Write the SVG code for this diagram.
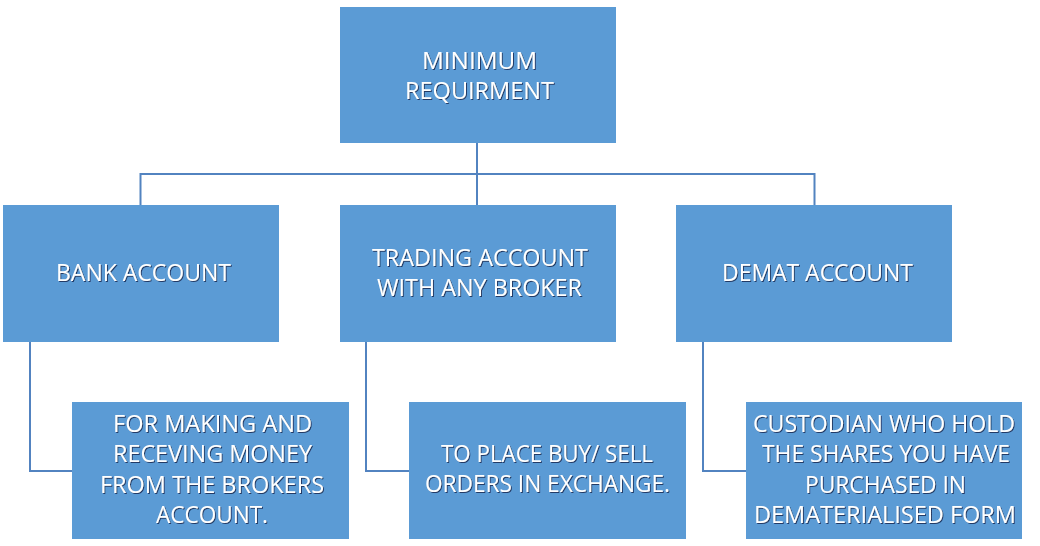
<svg xmlns="http://www.w3.org/2000/svg" width="1040" height="546" viewBox="0 0 1040 546">
  <defs>
    <filter id="sh" x="-5%" y="-20%" width="110%" height="140%">
      <feDropShadow dx="1" dy="1" stdDeviation="0.3" flood-color="#0b1f3f" flood-opacity="0.75"/>
    </filter>
  </defs>
  <style>
    .box { fill: #5B9BD5; }
    .lbl { font-family: "Open Sans", "Liberation Sans", sans-serif; font-size: 24px; fill: #ffffff; text-anchor: middle; filter: url(#sh); }
    .conn { fill: none; stroke: #5283C0; stroke-width: 2; }
  </style>
  <rect width="1040" height="546" fill="#ffffff"/>

  <g id="connectors">
    <path class="conn" d="M477,143 V205"/>
    <path class="conn" d="M140.5,205 V174 H814.5 V205"/>
    <path class="conn" d="M30,341 V471 H72"/>
    <path class="conn" d="M366,341 V471 H409"/>
    <path class="conn" d="M703,341 V471 H746"/>
  </g>

  <g id="node-min">
    <rect class="box" x="340" y="7" width="276" height="136"/>
    <text class="lbl" x="479.5" y="69" textLength="115" lengthAdjust="spacingAndGlyphs">MINIMUM</text>
    <text class="lbl" x="479.5" y="99" textLength="149" lengthAdjust="spacingAndGlyphs">REQUIRMENT</text>
  </g>

  <g id="node-bank">
    <rect class="box" x="3" y="205" width="276" height="137"/>
    <text class="lbl" x="143.5" y="281" textLength="175" lengthAdjust="spacingAndGlyphs">BANK ACCOUNT</text>
  </g>

  <g id="node-trading">
    <rect class="box" x="340" y="205" width="276" height="137"/>
    <text class="lbl" x="480" y="266" textLength="216" lengthAdjust="spacingAndGlyphs">TRADING ACCOUNT</text>
    <text class="lbl" x="479.5" y="296" textLength="205" lengthAdjust="spacingAndGlyphs">WITH ANY BROKER</text>
  </g>

  <g id="node-demat">
    <rect class="box" x="676" y="205" width="276" height="137"/>
    <text class="lbl" x="817.5" y="281" textLength="191" lengthAdjust="spacingAndGlyphs">DEMAT ACCOUNT</text>
  </g>

  <g id="node-bank-desc">
    <rect class="box" x="72" y="402" width="277" height="137"/>
    <text class="lbl" x="212.5" y="432" textLength="199" lengthAdjust="spacingAndGlyphs">FOR MAKING AND</text>
    <text class="lbl" x="212.5" y="462" textLength="199" lengthAdjust="spacingAndGlyphs">RECEVING MONEY</text>
    <text class="lbl" x="212" y="493" textLength="224" lengthAdjust="spacingAndGlyphs">FROM THE BROKERS</text>
    <text class="lbl" x="212" y="523" textLength="112" lengthAdjust="spacingAndGlyphs">ACCOUNT.</text>
  </g>

  <g id="node-trading-desc">
    <rect class="box" x="409" y="402" width="277" height="137"/>
    <text class="lbl" x="547" y="462" textLength="212" lengthAdjust="spacingAndGlyphs">TO PLACE BUY/ SELL</text>
    <text class="lbl" x="547.5" y="492" textLength="245" lengthAdjust="spacingAndGlyphs">ORDERS IN EXCHANGE.</text>
  </g>

  <g id="node-demat-desc">
    <rect class="box" x="746" y="402" width="276" height="137"/>
    <text class="lbl" x="884" y="432" textLength="262" lengthAdjust="spacingAndGlyphs">CUSTODIAN WHO HOLD</text>
    <text class="lbl" x="886" y="462" textLength="248" lengthAdjust="spacingAndGlyphs">THE SHARES YOU HAVE</text>
    <text class="lbl" x="885.5" y="493" textLength="161" lengthAdjust="spacingAndGlyphs">PURCHASED IN</text>
    <text class="lbl" x="885" y="523" textLength="262" lengthAdjust="spacingAndGlyphs">DEMATERIALISED FORM</text>
  </g>
</svg>
